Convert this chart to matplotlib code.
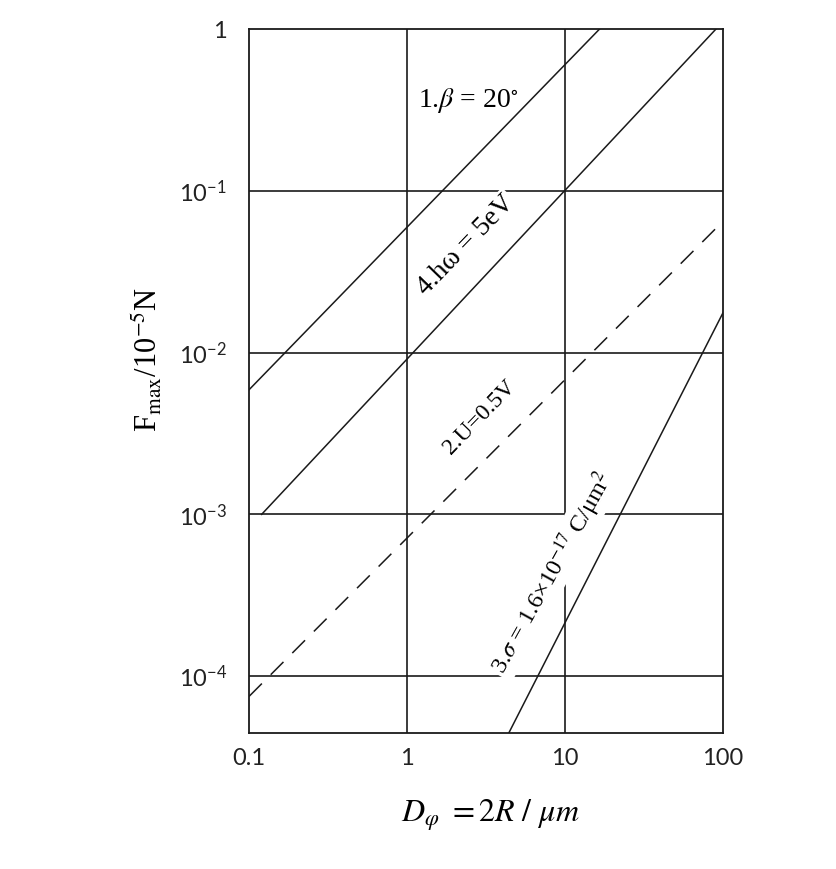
import matplotlib
matplotlib.use("Agg")
import matplotlib.pyplot as plt

# 读图得到的直线端点 (D / um, F / 1e-5 N)
d_beta = [0.1, 16.5]
f_beta = [5.9e-3, 1.0]
d_hw = [0.12, 90]
f_hw = [1.0e-3, 1.0]
d_u = [0.1, 100]
f_u = [7.5e-5, 0.065]
d_sigma = [4.4, 100]
f_sigma = [4.45e-5, 0.0177]

x_ticks = [0.1, 1, 10, 100]
x_ticklabels = ["0.1", "1", "10", "100"]
y_ticks = [1e-4, 1e-3, 1e-2, 1e-1, 1]
y_ticklabels = ["$10^{-4}$", "$10^{-3}$", "$10^{-2}$", "$10^{-1}$", "1"]

plt.rcParams['mathtext.fontset'] = 'custom'
plt.rcParams['mathtext.rm'] = 'Lato'
plt.rcParams['mathtext.it'] = 'Lato:italic'
plt.rcParams['lines.scale_dashes'] = False

fig = plt.figure(figsize=(8.36, 8.69), dpi=100)
ax = fig.add_axes([0.298, 0.1565, 0.567, 0.81])
ax.set_xscale('log')
ax.set_yscale('log')
ax.set_xlim(0.1, 100)
ax.set_ylim(4.45e-5, 1)

lc = '#1a1a1a'
# 网格
for xv in x_ticks[1:-1]:
    ax.axvline(xv, color=lc, lw=1.2, zorder=1)
for yv in y_ticks[:-1]:
    ax.axhline(yv, color=lc, lw=1.2, zorder=1)

ax.plot(d_beta, f_beta, color=lc, lw=1.1, zorder=2)
ax.plot(d_hw, f_hw, color=lc, lw=1.1, zorder=2)
ax.plot(d_u, f_u, color=lc, lw=1.1, ls=(0, (13, 9)), zorder=2)
ax.plot(d_sigma, f_sigma, color=lc, lw=1.1, zorder=2)

for s in ax.spines.values():
    s.set_color(lc)
    s.set_linewidth(1.3)

ax.set_xticks(x_ticks)
ax.set_xticklabels(x_ticklabels)
ax.set_yticks(y_ticks)
ax.set_yticklabels(y_ticklabels)
ax.minorticks_off()
ax.tick_params(axis='both', length=0, labelsize=17)
ax.tick_params(axis='x', pad=11)
ax.tick_params(axis='y', pad=16)
for lab in ax.get_xticklabels() + ax.get_yticklabels():
    lab.set_fontfamily('Lato')
    lab.set_color('#222222')

# 曲线标注
box = dict(facecolor='white', edgecolor='none', pad=1.5)
serif = 'Liberation Serif'
ax.text(0.462, 0.899, r"1.$\beta$ = 20$^{\circ}$", transform=ax.transAxes, fontsize=20,
        family=serif, math_fontfamily='stix', ha='center', va='center', zorder=3)
ax.text(0.458, 0.693, "4.hω = 5eV", transform=ax.transAxes, fontsize=20, family=serif,
        rotation=46, ha='center', va='center', bbox=box, zorder=3)
ax.text(0.487, 0.449, "2.U=0.5V", transform=ax.transAxes, fontsize=17, family=serif,
        rotation=46, ha='center', va='center', bbox=box, zorder=3)
ax.text(0.639, 0.227, r"3.$\sigma$ = 1.6×10$^{-17}$ C/μm$^{2}$", transform=ax.transAxes,
        fontsize=17.5, family=serif, math_fontfamily='stix', rotation=61,
        ha='center', va='center', bbox=box, zorder=3)

fig.text(0.177, 0.586, r"F$_{\rm max}$/10$^{-5}$N", rotation=90, fontsize=22, family=serif,
         math_fontfamily='stix', ha='center', va='center')
fig.text(0.586, 0.062, r"$D_{\varphi}\ = 2R\ /\ \mu m$", fontsize=23, family=serif,
         math_fontfamily='stix', ha='center', va='center')

fig.savefig('out.png', dpi=100, facecolor='white')
